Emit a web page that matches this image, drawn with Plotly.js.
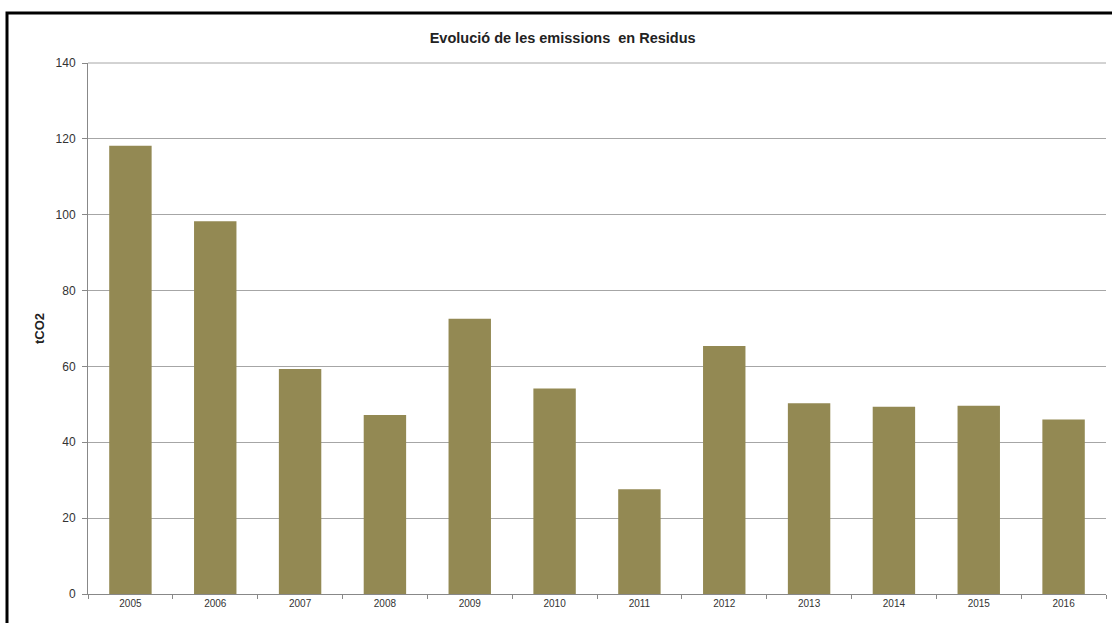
<!DOCTYPE html>
<html>
<head>
<meta charset="utf-8">
<script src="https://cdn.plot.ly/plotly-3.0.1.min.js"></script>
<style>
html,body{margin:0;padding:0;background:#fff;}
#chart{width:1112px;height:623px;}
</style>
</head>
<body>
<div id="chart"></div>
<script>
const years = ["2005","2006","2007","2008","2009","2010","2011","2012","2013","2014","2015","2016"];
const emissions = [118.2, 98.3, 59.3, 47.2, 72.6, 54.2, 27.6, 65.4, 50.3, 49.4, 49.6, 46.0];
const yTicks = [0, 20, 40, 60, 80, 100, 120, 140];

const trace = {
  type: "bar",
  x: years,
  y: emissions,
  marker: {color: "#938953", line: {width: 0}},
  hoverinfo: "x+y"
};

const layout = {
  width: 1112,
  height: 623,
  margin: {l: 88, r: 6, t: 63, b: 29, pad: 0},
  paper_bgcolor: "#ffffff",
  plot_bgcolor: "#ffffff",
  bargap: 0.5,
  showlegend: false,
  font: {family: "Liberation Sans, Arial, sans-serif", color: "#333"},
  title: {
    text: "<b>Evolució de les emissions  en Residus</b>",
    font: {size: 14.5, color: "#222", family: "Liberation Sans, Arial, sans-serif"},
    xref: "container", x: 0.506, xanchor: "center",
    yref: "container", y: 1 - 38/623, yanchor: "middle"
  },
  xaxis: {
    type: "category",
    tickson: "boundaries",
    ticks: "outside",
    ticklen: 4,
    tickcolor: "#888",
    showline: true,
    linecolor: "#888",
    linewidth: 1,
    showgrid: false,
    tickfont: {size: 10, color: "#333"},
    fixedrange: true
  },
  yaxis: {
    range: [0, 140],
    tickvals: yTicks,
    ticktext: yTicks.map(String),
    ticks: "outside",
    ticklen: 5,
    tickcolor: "#888",
    showline: true,
    linecolor: "#888",
    linewidth: 1,
    showgrid: true,
    gridcolor: "#a6a6a6",
    gridwidth: 1,
    zeroline: false,
    tickfont: {size: 12, color: "#333"},
    ticklabelstandoff: 4,
    title: {text: "<b>tCO2</b>", font: {size: 13, color: "#222"}, standoff: 8},
    fixedrange: true
  },
  shapes: [{
    type: "line",
    xref: "paper", yref: "paper",
    x0: 0, x1: 1, y0: 1, y1: 1,
    line: {color: "#a6a6a6", width: 1},
    layer: "below"
  }, {
    type: "rect",
    xref: "paper", yref: "paper",
    x0: (7 - 88) / 1018, x1: (1120 - 88) / 1018,
    y0: -0.2, y1: (594 - 13) / 531,
    line: {color: "#000", width: 3},
    fillcolor: "rgba(0,0,0,0)",
    layer: "above"
  }]
};

Plotly.newPlot("chart", [trace], layout, {displayModeBar: false, staticPlot: true});
</script>
</body>
</html>
